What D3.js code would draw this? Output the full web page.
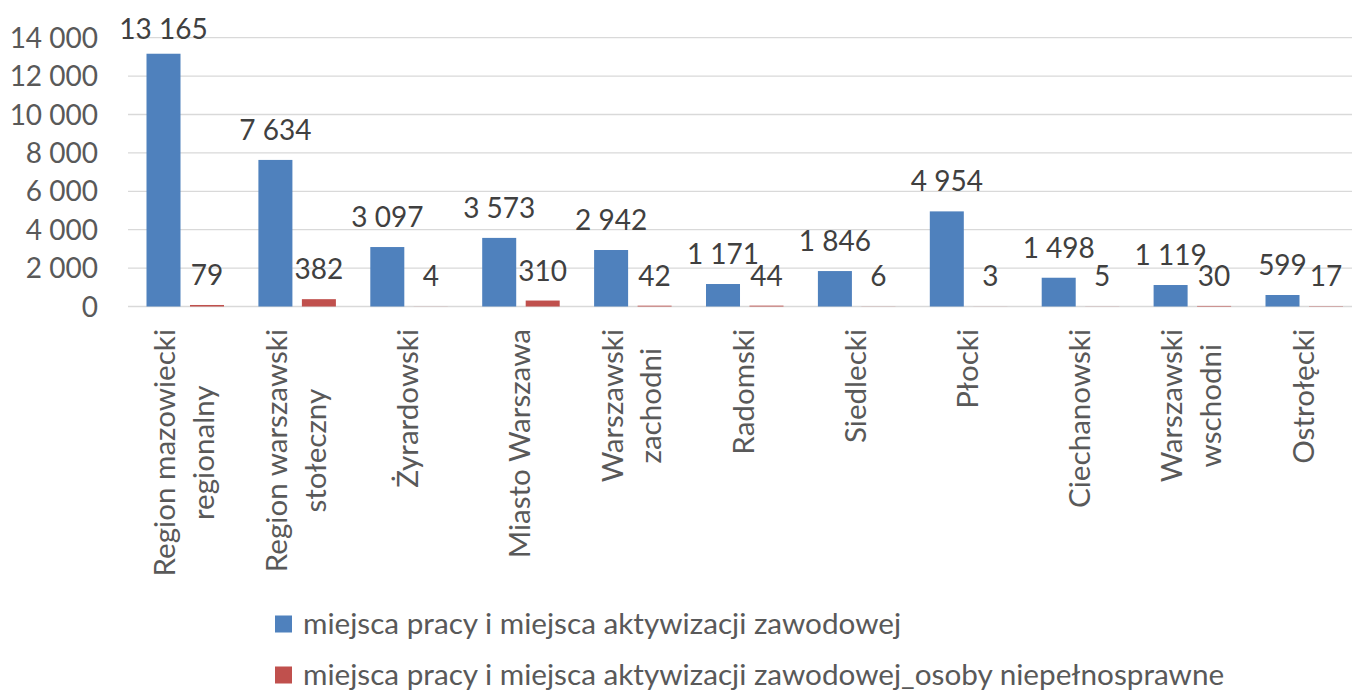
<!DOCTYPE html>
<html>
<head>
<meta charset="utf-8">
<script src="https://cdn.jsdelivr.net/npm/d3@7"></script>
<style>
  body { margin: 0; background: #fff; }
  svg { display: block; font-family: Lato, "Open Sans", sans-serif; }
</style>
</head>
<body>
<svg id="chart"></svg>
<script>
// data
let categories = ['Region mazowiecki|regionalny', 'Region warszawski|stołeczny', 'Żyrardowski',
  'Miasto Warszawa', 'Warszawski|zachodni', 'Radomski', 'Siedlecki', 'Płocki',
  'Ciechanowski', 'Warszawski|wschodni', 'Ostrołęcki']
let seriesNames = ['miejsca pracy i miejsca aktywizacji zawodowej',
  'miejsca pracy i miejsca aktywizacji zawodowej_osoby niepełnosprawne']
let allPlaces = [13165, 7634, 3097, 3573, 2942, 1171, 1846, 4954, 1498, 1119, 599]
let disabledPlaces = [79, 382, 4, 310, 42, 44, 6, 3, 5, 30, 17]
let yTicks = [0, 2000, 4000, 6000, 8000, 10000, 12000, 14000]

let colors = ['#4f81bd', '#c0504d']
let width = 1352, height = 690

let svg = d3.select('#chart').attr('width', width).attr('height', height)

let y = d3.scaleLinear().domain([0, 14000]).range([306.5, 37.7])
let x = d3.scaleBand().domain(categories).range([128, 128 + 11 * 111.9])
let xs = d3.scaleBand().domain([0, 1]).range([18.5, 96]).paddingInner(0.218)

let fmt = v => d3.format(',')(v).replace(/,/g, ' ')

// gridlines
svg.append('g')
  .selectAll('line')
  .data(yTicks)
  .join('line')
  .attr('x1', 128).attr('x2', width)
  .attr('y1', d => y(d)).attr('y2', d => y(d))
  .attr('stroke', '#d9d9d9')
  .attr('stroke-width', 1.3)

// y tick labels
svg.append('g')
  .selectAll('text')
  .data(yTicks)
  .join('text')
  .attr('x', 98)
  .attr('y', d => y(d))
  .attr('dy', '0.36em')
  .attr('text-anchor', 'end')
  .attr('fill', '#595959')
  .style('font-size', '28px')
  .text(d => fmt(d))

let rows = categories.map((c, i) => ({ c, vals: [allPlaces[i], disabledPlaces[i]] }))

// bars
let grp = svg.append('g')
  .selectAll('g')
  .data(rows)
  .join('g')
  .attr('transform', d => `translate(${x(d.c)},0)`)

grp.selectAll('rect')
  .data(d => d.vals.map((v, s) => ({ v, s })))
  .join('rect')
  .attr('x', d => xs(d.s))
  .attr('width', xs.bandwidth())
  .attr('y', d => y(d.v))
  .attr('height', d => y(0) - y(d.v))
  .attr('fill', d => colors[d.s])

// value labels
grp.selectAll('text')
  .data(d => d.vals.map((v, s) => ({ v, s })))
  .join('text')
  .attr('x', d => xs(d.s) + xs.bandwidth() / 2)
  .attr('y', d => Math.max(y(d.v) - 20, 39.3))
  .attr('text-anchor', 'middle')
  .attr('fill', '#404040')
  .style('font-size', '28px')
  .text(d => fmt(d.v))

// category labels (rotated, multi-line)
let lh = 38.5
let cat = svg.append('g')
  .selectAll('g')
  .data(categories)
  .join('g')
  .attr('transform', d => `translate(${x(d) + x.bandwidth() / 2},329) rotate(-90)`)

cat.each(function(d) {
  let g = d3.select(this)
  let lines = d.split('|')
  let texts = g.selectAll('text')
    .data(lines)
    .join('text')
    .attr('y', (l, i) => (i - (lines.length - 1) / 2) * lh)
    .attr('dy', '0.36em')
    .attr('text-anchor', 'middle')
    .attr('fill', '#595959')
    .style('font-size', '29.6px')
    .text(l => l)
  let maxLen = d3.max(texts.nodes(), n => n.getComputedTextLength())
  texts.attr('x', -maxLen / 2)
})

// legend
let leg = svg.append('g')
  .selectAll('g')
  .data(seriesNames)
  .join('g')
  .attr('transform', (d, i) => `translate(275,${624 + i * 51})`)

leg.append('rect')
  .attr('x', 0).attr('y', -8.5)
  .attr('width', 17).attr('height', 17)
  .attr('fill', (d, i) => colors[i])

leg.append('text')
  .attr('x', 28)
  .attr('dy', '0.33em')
  .attr('fill', '#595959')
  .style('font-size', '29.7px')
  .text(d => d)
</script>
</body>
</html>
